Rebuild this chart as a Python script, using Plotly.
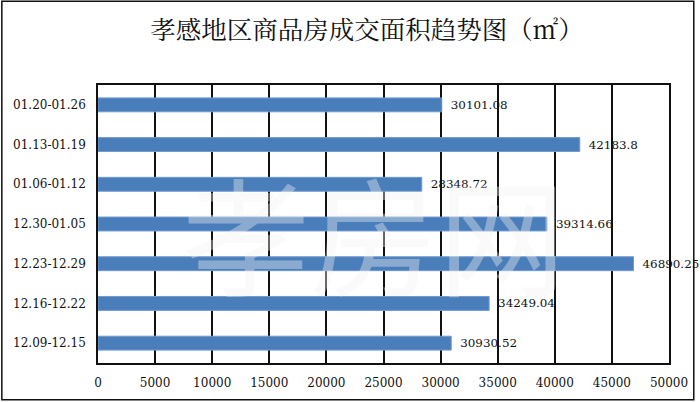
import plotly.graph_objects as go

categories = ["12.09-12.15", "12.16-12.22", "12.23-12.29", "12.30-01.05",
              "01.06-01.12", "01.13-01.19", "01.20-01.26"]
values = [30930.52, 34249.04, 46890.25, 39314.66, 28348.72, 42183.8, 30101.08]
value_labels = ["30930.52", "34249.04", "46890.25", "39314.66", "28348.72", "42183.8", "30101.08"]
tick_vals = [0, 5000, 10000, 15000, 20000, 25000, 30000, 35000, 40000, 45000, 50000]

W, H = 700, 402
L, R, T, B = 98, 26, 85, 38
pw, ph = W - L - R, H - T - B
FONT = "DejaVu Serif, Liberation Serif, serif"

fig = go.Figure(go.Bar(
    x=values, y=categories, orientation="h",
    marker=dict(color="#4a7ebb", line=dict(color="#6f9ad0", width=1)),
    text=value_labels, texttemplate="\u2002%{text}", textposition="outside", cliponaxis=False,
    textfont=dict(family=FONT, size=12, color="#111"),
))

fig.update_layout(
    width=W, height=H,
    margin=dict(l=L, r=R, t=T, b=B),
    paper_bgcolor="white", plot_bgcolor="white",
    bargap=0.65, showlegend=False,
    title=dict(text="孝感地区商品房成交面积趋势图（㎡）", x=367 / W, xanchor="center",
               y=1 - 30 / H, yanchor="middle",
               font=dict(family="Noto Serif CJK SC, Noto Sans CJK SC, serif", size=25.5, color="#111")),
    xaxis=dict(range=[0, 50000], tickvals=tick_vals, ticktext=[str(v) for v in tick_vals],
               showgrid=True, gridcolor="#111", gridwidth=1.5,
               showline=True, linecolor="#111", linewidth=1.5, mirror=True,
               zeroline=False, ticks="", ticklen=0, ticklabelstandoff=8,
               tickfont=dict(family=FONT, size=12, color="#111")),
    yaxis=dict(showgrid=False, showline=True, linecolor="#111", linewidth=1.5, mirror=True,
               ticks="", ticklabelstandoff=8,
               tickfont=dict(family=FONT, size=12, color="#111")),
)

# watermark
fig.add_annotation(text="孝房网", x=(376 - L) / pw, y=(T + ph - 232) / ph,
                   xref="paper", yref="paper",
                   showarrow=False, opacity=0.38,
                   font=dict(family="Noto Sans CJK SC", size=128, color="#f2f2f2"))

# outer border of the picture
fig.add_shape(type="rect", xref="paper", yref="paper",
              x0=(1 - L) / pw, x1=(W - 1 - L) / pw,
              y0=-(H - 1 - (T + ph)) / ph, y1=(T + ph - 1) / ph,
              line=dict(color="#111", width=1.5), fillcolor="rgba(0,0,0,0)")

fig.write_html("out.html", config={"displayModeBar": False},
               post_script="document.body.style.margin='0';document.body.style.padding='0';")
